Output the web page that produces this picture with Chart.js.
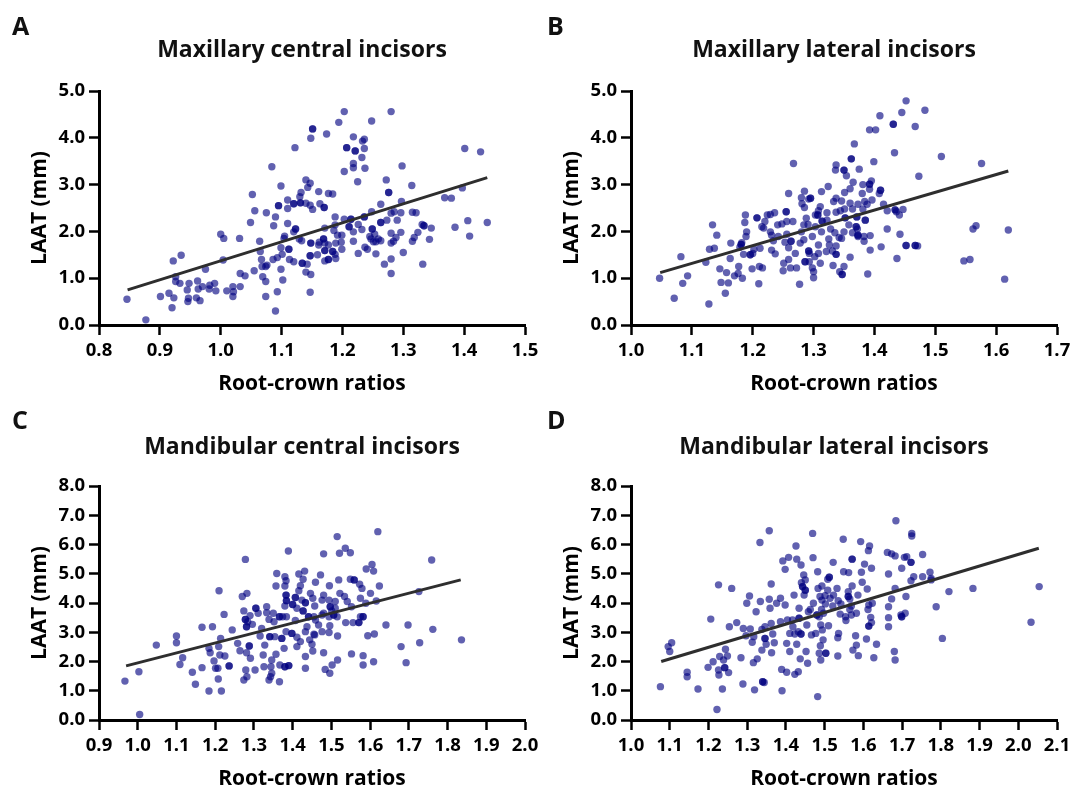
<!DOCTYPE html>
<html>
<head>
<meta charset="utf-8">
<script src="https://cdn.jsdelivr.net/npm/chart.js@4"></script>
<style>
  html, body { margin: 0; padding: 0; background: #fff; overflow: hidden; width: 1070px; height: 790px; }
  canvas { position: absolute; }
</style>
</head>
<body>
<canvas id="chartA" width="545" height="395" style="left:0;top:0"></canvas>
<canvas id="chartB" width="545" height="395" style="left:532px;top:0"></canvas>
<canvas id="chartC" width="545" height="395" style="left:0;top:395px"></canvas>
<canvas id="chartD" width="545" height="395" style="left:532px;top:395px"></canvas>
<script>
// tick labels
const xTicksA = [0.8, 0.9, 1.0, 1.1, 1.2, 1.3, 1.4, 1.5];
const xTicksB = [1.0, 1.1, 1.2, 1.3, 1.4, 1.5, 1.6, 1.7];
const xTicksC = [0.9, 1.0, 1.1, 1.2, 1.3, 1.4, 1.5, 1.6, 1.7, 1.8, 1.9, 2.0];
const xTicksD = [1.0, 1.1, 1.2, 1.3, 1.4, 1.5, 1.6, 1.7, 1.8, 1.9, 2.0, 2.1];
const yTicksTop = [0, 1, 2, 3, 4, 5];
const yTicksBottom = [0, 1, 2, 3, 4, 5, 6, 7, 8];

// regression lines (end points)
const fitXA = [0.847, 1.438], fitYA = [0.75, 3.15];
const fitXB = [1.048, 1.620], fitYB = [1.12, 3.29];
const fitXC = [0.970, 1.834], fitYC = [1.85, 4.79];
const fitXD = [1.078, 2.053], fitYD = [2.00, 5.87];

// [root-crown ratio, LAAT mm]
const ptsA = [
  [0.846,0.55],[0.877,0.11],[0.901,0.61],[0.915,0.68],[0.920,0.37],[0.922,1.37],[0.935,1.49],[0.923,0.58],[0.926,1.03],[0.926,0.93],
  [0.933,0.89],[0.946,0.50],[0.947,0.57],[0.945,0.75],[0.948,0.89],[0.962,0.94],[0.960,0.58],[0.966,0.52],[0.963,0.77],[0.970,0.82],
  [0.975,1.19],[0.981,0.77],[0.982,0.85],[0.990,0.89],[0.992,0.73],[1.000,1.94],[1.005,1.85],[1.004,1.39],[1.010,0.73],[1.020,0.82],
  [1.020,0.61],[1.021,0.71],[1.031,1.85],[1.032,0.82],[1.032,1.10],[1.040,1.05],[1.052,2.79],[1.056,2.44],[1.049,2.19],[1.064,1.79],
  [1.055,1.16],[1.065,1.57],[1.067,1.40],[1.068,1.25],[1.074,1.25],[1.076,1.28],[1.069,1.03],[1.074,0.93],[1.074,0.61],[1.084,3.38],
  [1.075,2.40],[1.090,2.31],[1.095,2.55],[1.095,2.55],[1.099,2.97],[1.087,2.12],[1.086,1.40],[1.093,1.44],[1.093,0.71],[1.090,0.30],
  [1.099,1.19],[1.102,0.96],[1.101,1.51],[1.104,1.85],[1.105,1.90],[1.099,1.65],[1.110,2.67],[1.110,2.49],[1.110,2.17],[1.112,1.62],
  [1.112,1.62],[1.113,1.40],
  [1.203,4.56],[1.280,4.56],[1.194,4.33],[1.248,4.36],[1.151,4.19],[1.151,4.19],[1.148,3.99],[1.174,4.08],[1.122,3.79],[1.218,4.02],
  [1.233,3.93],[1.236,3.97],[1.207,3.79],[1.207,3.79],[1.221,3.72],[1.221,3.72],[1.236,3.77],[1.232,3.58],[1.218,3.45],[1.218,3.36],
  [1.203,3.28],[1.237,3.35],[1.225,3.06],[1.298,3.40],[1.401,3.77],[1.427,3.70],[1.272,3.10],[1.314,2.98],[1.397,2.93],[1.368,2.72],
  [1.379,2.71],[1.276,2.83],[1.276,2.83],[1.140,3.10],[1.147,3.03],[1.143,2.94],[1.132,2.83],[1.130,2.74],[1.161,2.85],[1.177,2.81],
  [1.184,2.80],[1.120,2.59],[1.120,2.59],[1.131,2.61],[1.131,2.61],[1.140,2.60],[1.147,2.56],[1.151,2.47],[1.163,2.59],[1.170,2.51],
  [1.170,2.51],[1.263,2.58],[1.297,2.64],[1.296,2.40],[1.285,2.42],[1.280,2.39],[1.290,2.24],[1.248,2.42],[1.236,2.31],[1.236,2.31],
  [1.315,2.41],[1.321,2.40],[1.188,2.31],[1.203,2.26],[1.214,2.26],[1.214,2.26],[1.226,2.15],[1.232,2.04],[1.211,2.10],[1.211,2.10],
  [1.188,2.14],[1.192,1.92],[1.171,2.07],[1.186,2.02],[1.199,1.92],[1.218,1.99],[1.218,1.79],[1.198,1.77],[1.199,1.62],[1.189,1.75],
  [1.177,1.71],[1.169,1.84],[1.169,1.84],[1.171,1.75],[1.162,1.77],[1.161,1.71],[1.148,1.75],[1.148,1.75],[1.171,1.59],[1.171,1.59],
  [1.184,1.57],[1.184,1.57],[1.188,1.51],[1.189,1.42],[1.177,1.40],[1.177,1.40],[1.171,1.37],[1.159,1.50],[1.147,1.48],[1.147,1.48],
  [1.123,2.05],[1.123,2.05],[1.120,1.99],[1.129,1.84],[1.133,1.80],[1.120,1.35],[1.134,1.32],[1.134,1.32],[1.142,1.30],[1.140,1.13],
  [1.148,1.08],[1.147,0.70],[1.249,2.05],[1.249,2.05],[1.253,1.94],[1.245,1.89],[1.259,1.84],[1.247,1.84],[1.251,1.78],[1.263,1.80],
  [1.263,2.19],[1.263,2.19],[1.273,2.24],[1.255,1.78],[1.280,1.96],[1.296,1.98],[1.288,1.87],[1.284,1.79],[1.280,1.75],[1.237,1.66],
  [1.241,1.62],[1.226,1.53],[1.255,1.52],[1.269,1.30],[1.280,1.41],[1.280,1.10],[1.300,1.55],[1.315,1.79],[1.318,1.87],[1.324,1.98],
  [1.331,2.15],[1.334,2.12],[1.334,2.12],[1.346,2.07],[1.343,1.83],[1.332,1.30],[1.385,2.09],[1.406,2.23],[1.409,1.90],[1.438,2.19]
];

const ptsB = [
  [1.047,1.00],[1.071,0.57],[1.082,1.46],[1.085,0.89],[1.093,1.05],[1.123,1.34],[1.129,1.62],[1.128,0.45],[1.134,2.14],[1.137,1.64],
  [1.141,1.92],[1.146,1.20],[1.148,0.91],[1.155,0.68],[1.157,1.12],[1.160,0.90],[1.163,1.42],[1.164,1.75],[1.170,1.05],[1.176,1.10],
  [1.177,1.25],[1.179,1.66],[1.181,1.72],[1.181,1.72],[1.183,1.00],[1.182,1.76],[1.185,1.51],[1.188,2.35],[1.187,2.19],[1.190,1.99],
  [1.189,1.89],[1.199,1.20],[1.196,1.50],[1.196,1.50],[1.200,1.53],[1.202,1.62],[1.207,2.29],[1.207,2.29],[1.210,0.88],[1.211,1.25],
  [1.212,1.64],[1.216,1.22],[1.215,2.10],[1.218,2.07],[1.220,2.21],[1.224,2.35],[1.229,2.36],[1.236,2.40],[1.229,1.99],[1.231,1.92],
  [1.234,1.80],[1.231,1.60],[1.237,1.52],[1.241,2.14],[1.242,1.89],[1.248,2.16],[1.250,1.16],[1.251,1.32],[1.255,2.42],[1.255,2.42],
  [1.256,2.21],[1.253,1.77],[1.256,1.94],[1.259,1.65],[1.263,1.79],[1.263,1.79],[1.259,1.40],[1.262,1.22],[1.259,2.81],[1.267,3.45],
  [1.266,2.21],[1.270,1.53],[1.272,1.22],[1.277,0.87],[1.278,1.75],[1.280,1.99],[1.284,1.82],[1.284,2.14],[1.280,2.72],[1.285,2.86],
  [1.281,2.59],[1.285,2.51],[1.292,2.69],[1.295,2.71],[1.295,2.71],[1.288,2.28],[1.291,2.15],[1.292,1.58],[1.292,1.58],[1.293,1.53],
  [1.286,1.35],[1.286,1.35],[1.293,1.35],[1.298,1.89],[1.298,1.22],[1.300,1.14],[1.300,1.01],[1.303,2.35],[1.307,2.35],[1.307,2.35],
  [1.302,1.46],[1.308,1.71],[1.308,1.53],[1.311,1.32],[1.313,2.85],[1.311,2.53],[1.314,2.22],[1.314,2.22],[1.313,1.99],[1.308,2.44],
  [1.303,2.10],
  [1.452,4.79],[1.483,4.59],[1.445,4.54],[1.409,4.47],[1.431,4.29],[1.431,4.29],[1.467,4.24],[1.392,4.17],[1.402,4.17],[1.367,3.87],
  [1.433,3.68],[1.510,3.60],[1.576,3.45],[1.399,3.49],[1.362,3.55],[1.362,3.55],[1.337,3.42],[1.336,3.31],[1.350,3.31],[1.350,3.31],
  [1.375,3.33],[1.354,3.19],[1.473,3.18],[1.365,3.05],[1.395,3.08],[1.392,3.01],[1.392,3.01],[1.324,2.96],[1.351,2.83],[1.360,2.91],
  [1.381,3.00],[1.392,2.90],[1.410,2.88],[1.410,2.88],[1.408,2.81],[1.380,2.81],[1.337,2.71],[1.346,2.65],[1.333,2.64],[1.360,2.60],
  [1.373,2.58],[1.384,2.64],[1.396,2.67],[1.388,2.58],[1.381,2.48],[1.415,2.58],[1.421,2.44],[1.434,2.46],[1.434,2.46],[1.436,2.42],
  [1.441,2.35],[1.447,2.47],[1.337,2.41],[1.344,2.44],[1.351,2.48],[1.364,2.48],[1.322,2.40],[1.352,2.29],[1.352,2.29],[1.371,2.31],
  [1.371,2.31],[1.385,2.24],[1.385,2.24],[1.322,2.24],[1.358,2.14],[1.370,2.10],[1.370,2.10],[1.372,2.05],[1.373,1.92],[1.373,1.92],
  [1.364,1.97],[1.350,1.99],[1.335,1.97],[1.328,2.05],[1.342,1.87],[1.346,1.85],[1.325,1.84],[1.373,1.89],[1.383,1.89],[1.393,1.91],
  [1.383,1.79],[1.421,2.05],[1.442,1.94],[1.562,2.05],[1.567,2.12],[1.620,2.03],[1.326,1.71],[1.337,1.69],[1.321,1.57],[1.331,1.58],
  [1.337,1.51],[1.337,1.51],[1.393,1.60],[1.411,1.67],[1.452,1.70],[1.452,1.70],[1.467,1.70],[1.467,1.70],[1.471,1.69],[1.360,1.45],
  [1.437,1.42],[1.547,1.37],[1.557,1.40],[1.332,1.27],[1.350,1.25],[1.343,1.14],[1.347,1.08],[1.347,1.08],[1.389,1.09],[1.614,0.98]
];

const ptsC = [
  [0.967,1.33],[1.003,1.65],[1.005,0.19],[1.048,2.56],[1.100,2.87],[1.100,2.64],[1.109,1.90],[1.116,2.13],[1.141,1.63],[1.149,1.22],
  [1.166,3.17],[1.166,1.79],[1.184,0.99],[1.184,2.45],[1.187,2.30],[1.193,3.19],[1.197,2.02],[1.201,1.77],[1.207,1.77],[1.210,4.42],
  [1.209,2.51],[1.212,2.22],[1.208,1.40],[1.216,0.99],[1.223,3.61],[1.214,2.79],[1.225,2.19],[1.236,1.85],[1.236,1.85],[1.244,3.08],
  [1.258,2.62],[1.264,2.37],[1.270,4.22],[1.282,4.33],[1.278,5.49],[1.274,3.73],[1.278,3.44],[1.278,3.44],[1.284,3.36],[1.281,3.19],
  [1.281,3.19],[1.290,3.57],[1.296,3.27],[1.288,2.53],[1.288,2.53],[1.291,2.11],[1.281,2.30],[1.274,1.37],[1.282,1.48],[1.279,1.71],
  [1.303,1.71],[1.305,3.82],[1.305,3.82],[1.311,3.65],[1.320,3.13],[1.316,2.87],[1.324,2.22],[1.328,2.56],[1.326,1.82],[1.333,3.87],
  [1.333,3.67],[1.339,3.44],[1.341,2.85],[1.341,2.85],[1.339,1.37],[1.346,1.60],[1.344,1.82],[1.346,2.05],[1.343,1.48],[1.350,3.65],
  [1.352,3.36],[1.359,5.01],[1.357,4.58],[1.354,2.85],[1.357,2.25],[1.366,3.53],[1.366,3.53],[1.374,3.53],[1.372,2.79],[1.372,2.79],
  [1.366,1.31],[1.367,1.88],[1.378,2.45],[1.380,3.90],[1.380,4.90],[1.383,4.76],[1.380,4.58],[1.383,4.27],[1.383,4.27],[1.384,4.08],
  [1.384,4.08],[1.383,3.02],[1.380,1.82],[1.380,1.82],[1.389,5.78],
  [1.620,6.44],[1.515,6.27],[1.480,5.68],[1.521,5.70],[1.536,5.87],[1.549,5.72],[1.759,5.47],[1.605,5.32],[1.590,5.16],[1.609,5.09],
  [1.431,5.09],[1.416,4.99],[1.427,4.81],[1.472,4.96],[1.459,4.71],[1.519,4.79],[1.549,4.81],[1.559,4.79],[1.559,4.79],[1.573,4.64],
  [1.579,4.50],[1.624,4.58],[1.420,4.59],[1.495,4.59],[1.416,4.42],[1.446,4.33],[1.480,4.27],[1.522,4.33],[1.601,4.33],[1.726,4.39],
  [1.407,4.19],[1.407,4.19],[1.424,4.10],[1.452,4.16],[1.476,4.10],[1.494,4.10],[1.534,4.22],[1.575,4.16],[1.510,4.05],[1.541,4.05],
  [1.616,4.07],[1.400,3.95],[1.400,3.95],[1.433,4.01],[1.433,4.01],[1.411,3.82],[1.457,3.90],[1.497,3.87],[1.497,3.87],[1.510,3.82],
  [1.552,3.87],[1.589,3.99],[1.427,3.73],[1.427,3.73],[1.441,3.53],[1.441,3.53],[1.480,3.65],[1.501,3.73],[1.506,3.59],[1.506,3.59],
  [1.384,3.53],[1.407,3.40],[1.455,3.53],[1.476,3.59],[1.494,3.53],[1.515,3.53],[1.582,3.53],[1.582,3.53],[1.575,3.53],[1.537,3.33],
  [1.556,3.33],[1.571,3.33],[1.571,3.33],[1.459,3.42],[1.437,3.19],[1.467,3.25],[1.496,3.22],[1.476,3.02],[1.494,2.99],[1.433,3.02],
  [1.398,2.96],[1.398,2.96],[1.411,2.83],[1.455,2.93],[1.457,2.91],[1.420,2.68],[1.444,2.74],[1.411,2.51],[1.450,2.59],[1.452,2.36],
  [1.516,2.87],[1.594,2.88],[1.611,2.94],[1.641,3.25],[1.698,3.25],[1.762,3.10],[1.480,2.30],[1.433,2.17],[1.552,2.26],[1.582,2.20],
  [1.516,2.05],[1.680,2.51],[1.728,2.64],[1.836,2.74],[1.693,1.96],[1.609,1.99],[1.582,1.88],[1.502,1.88],[1.390,1.86],[1.390,1.86],
  [1.433,1.77],[1.484,1.73],[1.496,1.60]
];

const ptsD = [
  [1.076,1.14],[1.096,2.51],[1.105,2.64],[1.100,2.34],[1.145,1.63],[1.145,1.48],[1.173,1.06],[1.206,3.45],[1.199,1.80],[1.212,1.99],
  [1.222,0.36],[1.226,4.62],[1.226,1.71],[1.227,1.54],[1.229,2.17],[1.236,1.06],[1.239,2.05],[1.242,1.79],[1.242,1.79],[1.244,2.42],
  [1.249,2.19],[1.252,1.62],[1.254,3.19],[1.260,4.50],[1.273,3.33],[1.284,2.13],[1.289,1.23],[1.290,3.13],[1.297,2.88],[1.299,3.99],
  [1.306,4.24],[1.308,3.11],[1.313,2.66],[1.317,2.85],[1.319,1.03],[1.316,1.96],[1.323,3.70],[1.326,2.09],[1.333,6.07],[1.334,4.05],
  [1.338,2.39],[1.338,3.10],[1.340,1.31],[1.340,1.31],[1.344,1.28],[1.346,3.19],[1.346,2.79],[1.346,2.79],[1.349,2.59],[1.357,6.47],
  [1.357,4.13],[1.359,3.82],[1.362,4.65],[1.362,3.30],[1.363,2.30],[1.366,2.94],[1.370,2.64],[1.376,3.99],[1.386,4.16],[1.386,3.36],
  [1.389,1.73],[1.390,1.00],[1.392,5.44],[1.398,5.15],[1.398,3.93],[1.402,2.62],[1.402,1.63],[1.404,3.42],[1.407,5.56],[1.410,2.96],
  [1.410,2.34],[1.417,3.42],[1.418,3.19],[1.421,4.27],[1.423,2.94],[1.423,1.56],[1.426,5.95],[1.428,5.50],[1.428,2.59],[1.432,3.02],
  [1.432,1.65],[1.434,3.48],[1.434,3.48],[1.434,3.82],[1.437,2.09],[1.439,5.30],[1.439,2.94],[1.439,2.94],[1.440,4.69],[1.443,4.56],
  [1.443,4.56],[1.446,4.96],[1.447,4.27],[1.450,4.44],[1.450,4.44],[1.452,2.34],[1.450,4.79],[1.454,3.25],[1.456,1.94],[1.458,3.70],
  [1.463,3.78],[1.466,2.91],[1.469,6.38],[1.470,5.55],[1.471,3.99],[1.477,2.96],[1.480,3.59],[1.480,3.59],[1.482,0.80],[1.482,5.07],
  [1.483,4.50],[1.486,2.28],[1.486,3.53],[1.488,4.22],[1.490,3.25],[1.490,2.05],[1.493,4.58],[1.494,3.08],[1.496,2.74],[1.492,3.78],
  [1.684,6.81],[1.725,6.38],[1.725,6.29],[1.548,6.18],[1.593,6.10],[1.616,5.95],[1.613,5.79],[1.662,5.73],[1.673,5.68],[1.682,5.61],
  [1.706,5.56],[1.712,5.58],[1.753,5.66],[1.571,5.50],[1.571,5.50],[1.522,5.39],[1.723,5.39],[1.723,5.39],[1.603,5.33],[1.621,5.19],
  [1.699,5.19],[1.549,5.07],[1.562,5.04],[1.595,5.05],[1.665,4.99],[1.772,5.05],[1.730,4.90],[1.753,4.90],[1.512,4.88],[1.512,4.88],
  [1.508,4.81],[1.723,4.76],[1.775,4.79],[1.775,4.84],[1.597,4.71],[1.532,4.50],[1.571,4.58],[1.682,4.50],[1.821,4.39],[1.883,4.50],
  [2.054,4.56],[1.508,4.44],[1.561,4.39],[1.610,4.48],[1.523,4.27],[1.501,4.25],[1.561,4.22],[1.561,4.22],[1.586,4.27],[1.565,4.14],
  [1.673,4.14],[1.710,4.22],[1.493,4.10],[1.514,4.16],[1.535,4.08],[1.521,3.90],[1.542,3.97],[1.623,3.99],[1.502,3.97],[1.614,3.93],
  [1.665,3.87],[1.788,3.87],[1.569,3.90],[1.565,3.78],[1.612,3.78],[1.497,3.65],[1.540,3.62],[1.554,3.53],[1.569,3.59],[1.582,3.65],
  [1.555,3.40],[1.619,3.51],[1.665,3.50],[1.699,3.53],[1.699,3.53],[1.697,3.59],[1.708,3.65],[1.510,3.22],[1.614,3.21],[1.614,3.21],
  [1.621,3.33],[1.665,3.19],[2.033,3.34],[1.536,2.96],[1.534,2.81],[1.580,2.88],[1.608,2.77],[1.804,2.79],[1.634,2.59],[1.582,2.56],
  [1.573,2.39],[1.489,2.54],[1.503,2.28],[1.503,2.28],[1.534,2.19],[1.587,2.20],[1.680,2.34],[1.682,2.05],[1.627,2.13]
];

const FONT = '"Open Sans", "Noto Sans", sans-serif';

// panel letter and title above each plot
const panelText = {
  id: 'panelText',
  afterDraw(chart, args, o) {
    const ctx = chart.ctx;
    ctx.save();
    ctx.fillStyle = '#111';
    ctx.textBaseline = 'middle';
    ctx.textAlign = 'left';
    ctx.font = 'bold 25px ' + FONT;
    ctx.fillText(o.letter, o.letterX, o.letterY);
    ctx.textAlign = 'center';
    ctx.font = 'bold 23px ' + FONT;
    ctx.fillText(o.title, o.titleX, o.titleY);
    ctx.restore();
  }
};

function panel(id, pts, fitX, fitY, xTicks, yTicks, text) {
  const fixTicks = (arr) => (s) => { s.ticks = arr.map((v) => ({ value: v })); };
  new Chart(document.getElementById(id), {
    type: 'scatter',
    data: {
      datasets: [
        { type: 'line', data: fitX.map((x, i) => ({ x, y: fitY[i] })), borderColor: '#2e2e2e', borderWidth: 3,
          pointRadius: 0, order: 0 },
        { data: pts.map(([x, y]) => ({ x, y })), backgroundColor: 'rgba(0,0,128,0.62)', borderWidth: 0,
          pointRadius: 3.7, order: 1 },
      ],
    },
    options: {
      responsive: false,
      animation: false,
      layout: { padding: { left: 0, top: 91, right: 20, bottom: 0 } },
      plugins: { legend: { display: false }, tooltip: { enabled: false }, panelText: text },
      scales: {
        x: {
          type: 'linear', min: xTicks[0], max: xTicks[xTicks.length - 1],
          afterBuildTicks: fixTicks(xTicks),
          afterFit: (s) => { s.height = 70; },
          border: { display: true, color: '#000', width: 3 },
          grid: { drawOnChartArea: false, drawTicks: true, tickLength: 10, tickColor: '#000', tickWidth: 2.5 },
          ticks: { color: '#000', padding: 5, maxRotation: 0, autoSkip: false,
            font: { family: FONT, size: 18.5, weight: 'bold' }, callback: (v) => v.toFixed(1) },
          title: { display: true, text: 'Root-crown ratios', color: '#000', padding: { top: 0, bottom: 0 },
            font: { family: FONT, size: 21, weight: 'bold', lineHeight: 1 } },
        },
        y: {
          type: 'linear', min: yTicks[0], max: yTicks[yTicks.length - 1],
          afterBuildTicks: fixTicks(yTicks),
          afterFit: (s) => { s.width = 99; },
          border: { display: true, color: '#000', width: 3 },
          grid: { drawOnChartArea: false, drawTicks: true, tickLength: 10, tickColor: '#000', tickWidth: 2.5 },
          ticks: { color: '#000', padding: 4, autoSkip: false,
            font: { family: FONT, size: 18.5, weight: 'bold' }, callback: (v) => v.toFixed(1) },
          title: { display: true, text: 'LAAT (mm)', color: '#000', padding: { top: 27, bottom: 0 },
            font: { family: FONT, size: 21, weight: 'bold' } },
        },
      },
    },
    plugins: [panelText],
  });
}

panel('chartA', ptsA, fitXA, fitYA, xTicksA, yTicksTop,
  { letter: 'A', letterX: 12, letterY: 28, title: 'Maxillary central incisors', titleX: 302, titleY: 50 });
panel('chartB', ptsB, fitXB, fitYB, xTicksB, yTicksTop,
  { letter: 'B', letterX: 15, letterY: 28, title: 'Maxillary lateral incisors', titleX: 302, titleY: 50 });
panel('chartC', ptsC, fitXC, fitYC, xTicksC, yTicksBottom,
  { letter: 'C', letterX: 12, letterY: 27, title: 'Mandibular central incisors', titleX: 302, titleY: 52 });
panel('chartD', ptsD, fitXD, fitYD, xTicksD, yTicksBottom,
  { letter: 'D', letterX: 15, letterY: 27, title: 'Mandibular lateral incisors', titleX: 302, titleY: 52 });
</script>
</body>
</html>
